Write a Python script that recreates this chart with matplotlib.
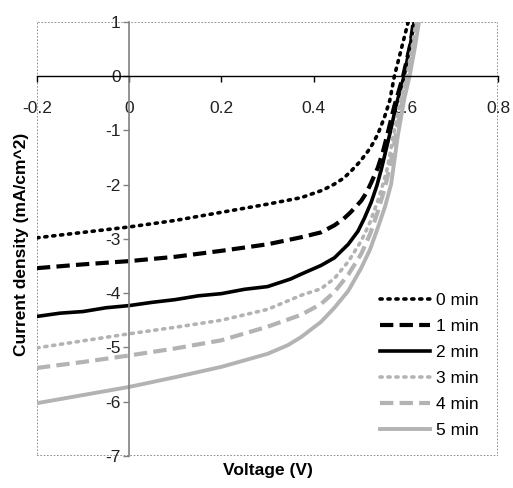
import matplotlib
matplotlib.use("Agg")
import matplotlib.pyplot as plt
from matplotlib.patches import Rectangle

plt.rcParams['font.family'] = ['Liberation Sans Narrow', 'Liberation Sans', 'DejaVu Sans']
plt.rcParams['axes.unicode_minus'] = False

# J-V curves (voltage in V, current density in mA/cm^2)
v_0 = [-0.2, -0.1, 0.0, 0.1, 0.2, 0.3, 0.373, 0.42, 0.445, 0.465, 0.48, 0.5, 0.518, 0.53, 0.54, 0.553, 0.565, 0.575, 0.59, 0.605, 0.615]
j_0 = [-2.98, -2.88, -2.78, -2.66, -2.51, -2.36, -2.24, -2.10, -1.99, -1.88, -1.76, -1.58, -1.38, -1.22, -1.05, -0.77, -0.45, 0.0, 0.5, 1.0, 1.3]

v_1 = [-0.2, -0.1, 0.0, 0.1, 0.2, 0.3, 0.373, 0.416, 0.445, 0.465, 0.48, 0.503, 0.515, 0.525, 0.539, 0.55, 0.56, 0.575, 0.594, 0.61, 0.62]
j_1 = [-3.54, -3.47, -3.41, -3.33, -3.22, -3.10, -2.97, -2.88, -2.75, -2.63, -2.51, -2.30, -2.14, -1.96, -1.69, -1.40, -1.07, -0.55, 0.0, 0.6, 1.2]

v_2 = [-0.2, -0.15, -0.1, -0.05, 0.0, 0.05, 0.1, 0.15, 0.2, 0.25, 0.3, 0.35, 0.373, 0.416, 0.445, 0.475,
       0.496, 0.51, 0.525, 0.537, 0.547, 0.565, 0.58, 0.596, 0.61, 0.622]
j_2 = [-4.43, -4.37, -4.34, -4.27, -4.23, -4.17, -4.12, -4.05, -4.01, -3.93, -3.88, -3.74, -3.65, -3.49, -3.35, -3.10,
       -2.86, -2.62, -2.32, -2.02, -1.71, -1.07, -0.5, 0.0, 0.6, 1.2]

v_3 = [-0.2, -0.1, 0.0, 0.1, 0.2, 0.3, 0.373, 0.416, 0.445, 0.475, 0.503, 0.522, 0.539, 0.55, 0.56, 0.575, 0.59, 0.602, 0.615, 0.625]
j_3 = [-5.01, -4.88, -4.75, -4.63, -4.50, -4.30, -4.04, -3.92, -3.73, -3.42, -3.04, -2.70, -2.30, -2.00, -1.69, -1.0, -0.4, 0.0, 0.6, 1.2]

v_4 = [-0.2, -0.1, 0.0, 0.1, 0.2, 0.3, 0.373, 0.416, 0.445, 0.475, 0.503, 0.522, 0.539, 0.553, 0.565, 0.58, 0.595, 0.605, 0.618, 0.628]
j_4 = [-5.38, -5.27, -5.15, -5.02, -4.87, -4.62, -4.40, -4.20, -3.98, -3.66, -3.28, -2.92, -2.50, -2.10, -1.69, -1.0, -0.35, 0.0, 0.6, 1.2]

v_5 = [-0.2, -0.1, 0.0, 0.1, 0.2, 0.3, 0.344, 0.373, 0.416, 0.445, 0.475, 0.503, 0.522, 0.539, 0.555, 0.568, 0.583, 0.597, 0.608, 0.62, 0.632]
j_5 = [-6.03, -5.88, -5.73, -5.55, -5.36, -5.12, -4.96, -4.81, -4.53, -4.27, -3.96, -3.54, -3.20, -2.80, -2.40, -1.99, -1.07, -0.4, 0.0, 0.55, 1.2]

labels = ['0 min', '1 min', '2 min', '3 min', '4 min', '5 min']
x_ticks = [-0.2, 0, 0.2, 0.4, 0.6, 0.8]
x_ticklabels = ['-0.2', '0', '0.2', '0.4', '0.6', '0.8']
y_ticks = [1, 0, -1, -2, -3, -4, -5, -6, -7]

black = '#000000'
grey = '#b3b3b3'

fig = plt.figure(figsize=(5.13, 4.88), dpi=100)
ax = fig.add_axes([0.072, 0.066, 0.899, 0.889])

ax.plot(v_0, j_0, color=black, lw=2.6, linestyle=(0, (0.6, 1.6)), dash_capstyle='round', label=labels[0])
ax.plot(v_1, j_1, color=black, lw=3.0, linestyle=(0, (3.2, 1.5)), label=labels[1])
ax.plot(v_2, j_2, color=black, lw=2.6, label=labels[2])
ax.plot(v_3, j_3, color=grey, lw=2.6, linestyle=(0, (0.6, 1.6)), dash_capstyle='round', label=labels[3])
ax.plot(v_4, j_4, color=grey, lw=3.0, linestyle=(0, (3.2, 1.5)), label=labels[4])
ax.plot(v_5, j_5, color=grey, lw=2.8, label=labels[5])

ax.set_xlim(-0.2, 0.8)
ax.set_ylim(-7, 1)

# Excel-style axes crossing at the origin
for side in ['top', 'right']:
    ax.spines[side].set_visible(False)
ax.spines['left'].set_position(('data', 0))
ax.spines['bottom'].set_position(('data', 0))
ax.spines['left'].set_color('#808080')
ax.spines['left'].set_linewidth(1.2)
ax.spines['bottom'].set_color(black)
ax.spines['bottom'].set_linewidth(1.0)

ax.set_xticks(x_ticks)
ax.set_xticklabels(x_ticklabels)
ax.set_yticks(y_ticks)
ax.tick_params(axis='x', direction='out', length=4, width=1, pad=14, labelsize=12.5, labelcolor='#222222')
ax.tick_params(axis='y', direction='out', length=4, width=1, color='#808080', pad=2,
               labelsize=12.5, labelcolor='#222222')

# dotted plot-area border
ax.add_patch(Rectangle((0, 0), 1, 1, transform=ax.transAxes, fill=False,
                       linestyle=(0, (1, 1)), edgecolor='#808080', lw=1.2, zorder=0))

fig.text(0.522, 0.036, 'Voltage (V)', ha='center', va='center', fontsize=12.5,
         fontweight='bold', family=['Liberation Sans', 'DejaVu Sans'])
fig.text(0.042, 0.50, 'Current density (mA/cm^2)', ha='center', va='center', rotation=90,
         fontsize=12.5, fontweight='bold', family=['Liberation Sans', 'DejaVu Sans'])

ax.legend(loc='lower right', bbox_to_anchor=(0.972, 0.025), frameon=False, fontsize=12.5,
          handlelength=2.9, handletextpad=0.3, labelspacing=0.62, borderaxespad=0)

fig.savefig('out.png', dpi=100)
